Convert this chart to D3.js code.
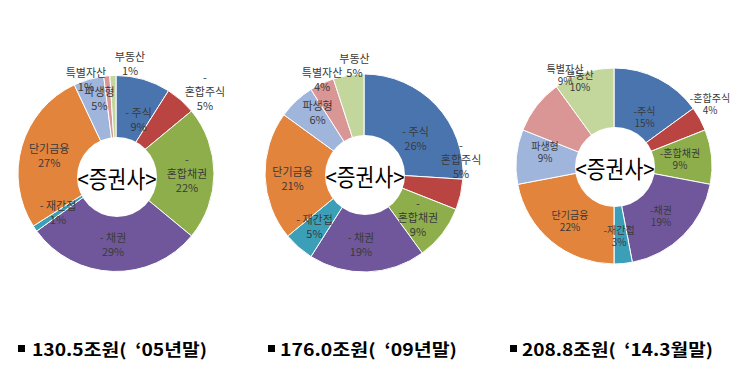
<!DOCTYPE html>
<html><head><meta charset="utf-8">
<script src="https://cdn.jsdelivr.net/npm/d3@7/dist/d3.min.js"></script>
<style>body{margin:0;background:#fff}svg{display:block}text{white-space:pre}</style>
</head><body>
<svg id="c" width="740" height="380"></svg>
<script>
// ---- data ----
const categories = ["주식","혼합주식","혼합채권","채권","재간접","단기금융","파생형","특별자산","부동산"];
const subCategory = [true,true,true,true,true,false,false,false,false]; // labelled with "-" prefix
const values2005 = [9,5,22,29,1,27,5,1,1];
const values2009 = [26,5,9,19,5,21,6,4,5];
const values2014 = [15,4,9,19,3,22,9,9,10];
const totals = [130.5, 176.0, 208.8];
const periods = ["‘05년말","‘09년말","‘14.3월말"];
const centerTitle = "<증권사>";

// ---- style / layout ----
const colors = ["#4a74ae","#b94441","#8eae4b","#70579b","#3c9fb8","#e2843b","#a0b5dc","#d99695","#c3d69b"];
const FONT = "'Noto Sans CJK KR','Noto Sans',sans-serif";
const charts = [
  {values: values2005, cx:116, cy:173.5, r:98, hole:[117,177,40], fs:11, lh:14, dashSpace:true, wrap:[1,2],
   off:[[3.4,10.9],[43.6,-31],[2.4,-0.5],[-0.8,2.4],[-1.3,0.4],[-1,0.6],[2.6,-9.6],[-23.6,-26.7],[16.2,-42.2]],
   cap:{sq:18, tx:32, tl:175}},
  {values: values2009, cx:364, cy:173, r:99, hole:[365,175,40], fs:11, lh:14, dashSpace:true, wrap:[1,2],
   off:[[1,12.5],[29.4,-29],[-0.8,1.5],[-5.2,1.7],[-3.7,1.5],[-2.2,2.8],[1,-10],[-12.5,-31.3],[1.3,-39.5]],
   cap:{sq:268, tx:280, tl:177}},
  {values: values2014, cx:614, cy:166, r:98, hole:[615,167,40], fs:10, lh:12, dashSpace:false, wrap:[],
   off:[[-0.6,12.1],[35.9,-29.9],[-2.3,-0.6],[-1.5,0.5],[-1.4,1.7],[-0.3,2.1],[-0.7,-8.1],[5.2,-49.5],[-12.8,-19.8]],
   cap:{sq:510, tx:522, tl:191}}
];

const svg = d3.select("#c");
const pie = d3.pie().sort(null).value(d => d);

charts.forEach((c, ci) => {
  const g = svg.append("g").attr("transform", `translate(${c.cx},${c.cy})`);
  const arc = d3.arc().innerRadius(c.r * 0.32).outerRadius(c.r);
  const labelArc = d3.arc().innerRadius(c.r * 0.4).outerRadius(c.r);
  const arcs = pie(c.values);
  g.selectAll("path").data(arcs).join("path")
    .attr("d", arc)
    .attr("fill", (d, i) => colors[i])
    .attr("stroke", "#ffffff")
    .attr("stroke-width", 1);

  // center white circle + title
  svg.append("circle").attr("cx", c.hole[0]).attr("cy", c.hole[1]).attr("r", c.hole[2]).attr("fill", "#fff");
  svg.append("text").attr("x", c.hole[0]).attr("y", c.hole[1])
    .attr("text-anchor", "middle").attr("dominant-baseline", "central")
    .attr("font-family", FONT).attr("font-size", 24).attr("fill", "#000")
    .attr("textLength", 79).attr("lengthAdjust", "spacingAndGlyphs")
    .text(centerTitle);

  // data labels
  arcs.forEach((d, i) => {
    const [x0, y0] = labelArc.centroid(d);
    const x = x0 + c.off[i][0], y = y0 + c.off[i][1];
    const name = categories[i];
    let lines;
    if (subCategory[i]) {
      if (c.wrap.includes(i)) lines = ["-", name];
      else lines = [(c.dashSpace ? "- " : "-") + name];
    } else lines = [name];
    const pct = Math.round(d.data / d3.sum(c.values) * 100) + "%";
    lines.push(pct);
    const t = g.append("text").attr("text-anchor", "middle")
      .attr("font-family", FONT).attr("font-size", c.fs).attr("fill", "#3a3a3a");
    lines.forEach((ln, k) => {
      t.append("tspan").attr("x", x)
        .attr("y", y + (k - (lines.length - 1) / 2) * c.lh)
        .attr("dominant-baseline", "central")
        .text(ln);
    });
  });

  // caption
  svg.append("rect").attr("x", c.cap.sq).attr("y", 345).attr("width", 7).attr("height", 7).attr("fill", "#000");
  svg.append("text").attr("x", c.cap.tx).attr("y", 356)
    .attr("font-family", FONT).attr("font-weight", "bold").attr("font-size", 17).attr("fill", "#000")
    .attr("textLength", c.cap.tl).attr("lengthAdjust", "spacingAndGlyphs")
    .text(totals[ci].toFixed(1) + "조원(  " + periods[ci] + ")");
});
</script>
</body></html>
